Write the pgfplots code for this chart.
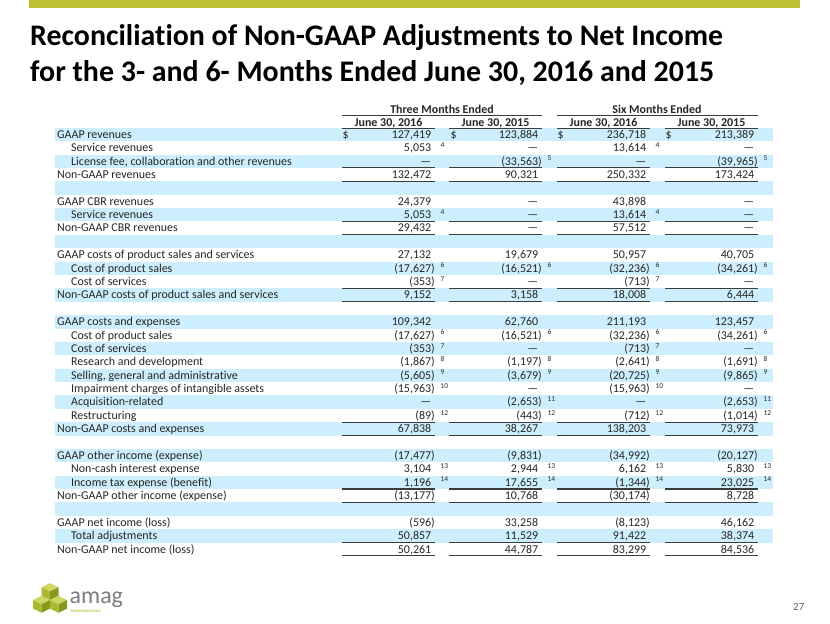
\documentclass[border=0pt]{standalone}
\usepackage{pgfplots}
\pgfplotsset{compat=1.18}
\usepackage{pgfplotstable}
\usepackage{fontspec}
\setmainfont{Carlito}[Ligatures=CommonOff]
\definecolor{barg}{RGB}{189,192,52}
\definecolor{rowblue}{RGB}{205,238,252}
\definecolor{txt}{RGB}{38,38,38}
\definecolor{rulec}{RGB}{60,60,60}
\definecolor{lg1}{RGB}{204,214,96}
\definecolor{lg2}{RGB}{170,186,44}
\definecolor{lg3}{RGB}{136,152,30}
\definecolor{amaggray}{RGB}{125,125,125}

\makeatletter
\newcommand\fmtval{\edef\tmpv{\pgfplotspointmeta}\expandafter\in@\expandafter)\expandafter{\tmpv}\ifin@\tmpv\else\tmpv\hphantom{)}\fi}
\makeatother

\pgfplotstableread[col sep=semicolon]{
r;ind;lab;c1;f1;c2;f2;c3;f3;c4;f4
1;0;GAAP revenues;127,419;{};123,884;{};236,718;{};213,389;{}
2;1;Service revenues;5,053;4;—;{};13,614;4;—;{}
3;1;License fee, collaboration and other revenues;—;{};(33,563);5;—;{};(39,965);5
4;0;Non-GAAP revenues;132,472;{};90,321;{};250,332;{};173,424;{}
6;0;GAAP CBR revenues;24,379;{};—;{};43,898;{};—;{}
7;1;Service revenues;5,053;4;—;{};13,614;4;—;{}
8;0;Non-GAAP CBR revenues;29,432;{};—;{};57,512;{};—;{}
10;0;GAAP costs of product sales and services;27,132;{};19,679;{};50,957;{};40,705;{}
11;1;Cost of product sales;(17,627);6;(16,521);6;(32,236);6;(34,261);6
12;1;Cost of services;(353);7;—;{};(713);7;—;{}
13;0;Non-GAAP costs of product sales and services;9,152;{};3,158;{};18,008;{};6,444;{}
15;0;GAAP costs and expenses;109,342;{};62,760;{};211,193;{};123,457;{}
16;1;Cost of product sales;(17,627);6;(16,521);6;(32,236);6;(34,261);6
17;1;Cost of services;(353);7;—;{};(713);7;—;{}
18;1;Research and development;(1,867);8;(1,197);8;(2,641);8;(1,691);8
19;1;Selling, general and administrative;(5,605);9;(3,679);9;(20,725);9;(9,865);9
20;1;Impairment charges of intangible assets;(15,963);10;—;{};(15,963);10;—;{}
21;1;Acquisition-related;—;{};(2,653);11;—;{};(2,653);11
22;1;Restructuring;(89);12;(443);12;(712);12;(1,014);12
23;0;Non-GAAP costs and expenses;67,838;{};38,267;{};138,203;{};73,973;{}
25;0;GAAP other income (expense);(17,477);{};(9,831);{};(34,992);{};(20,127);{}
26;1;Non-cash interest expense;3,104;13;2,944;13;6,162;13;5,830;13
27;1;Income tax expense (benefit);1,196;14;17,655;14;(1,344);14;23,025;14
28;0;Non-GAAP other income (expense);(13,177);{};10,768;{};(30,174);{};8,728;{}
30;0;GAAP net income (loss);(596);{};33,258;{};(8,123);{};46,162;{}
31;1;Total adjustments;50,857;{};11,529;{};91,422;{};38,374;{}
32;0;Non-GAAP net income (loss);50,261;{};44,787;{};83,299;{};84,536;{}
}\tbl

\pgfplotsset{
  celltext/.style={draw=none, mark=none, forget plot, nodes near coords, point meta=explicit symbolic,
    every node near coord/.style={inner sep=0pt, font=\fontsize{12}{14}\selectfont, text=txt, anchor=base east}},
  footn/.style={draw=none, mark=none, forget plot, nodes near coords, point meta=explicit symbolic,
    every node near coord/.style={inner sep=0pt, font=\fontsize{7.5}{8}\selectfont, text=txt, anchor=base west}},
}
\newcommand\rowbase{(138.3+13.38*(\thisrow{r}-1))}
\newcommand\cube[2]{%
  \fill[lg1] (axis cs:#1,#2-8.5) -- (axis cs:#1+8.5,#2-4.25) -- (axis cs:#1,#2) -- (axis cs:#1-8.5,#2-4.25) -- cycle;
  \fill[lg2] (axis cs:#1-8.5,#2-4.25) -- (axis cs:#1,#2) -- (axis cs:#1,#2+8.5) -- (axis cs:#1-8.5,#2+4.25) -- cycle;
  \fill[lg3] (axis cs:#1,#2) -- (axis cs:#1+8.5,#2-4.25) -- (axis cs:#1+8.5,#2+4.25) -- (axis cs:#1,#2+8.5) -- cycle;}

\begin{document}
\begin{tikzpicture}
\begin{axis}[width=830bp, height=623bp, scale only axis, xmin=0, xmax=830, ymin=0, ymax=623,
  y dir=reverse, hide axis, ticks=none, enlargelimits=false, clip=false]
\path (axis cs:0,0) rectangle (axis cs:830,623);
% top bar
\fill[barg] (axis cs:29,0) rectangle (axis cs:800,8.5);
% title
\node[anchor=base west, inner sep=0pt, font=\fontsize{30}{36}\bfseries\selectfont, text=black] at (axis cs:30,46) {Reconciliation of Non-GAAP Adjustments to Net Income};
\node[anchor=base west, inner sep=0pt, font=\fontsize{30}{36}\bfseries\selectfont, text=black] at (axis cs:30,82) {for the 3- and 6- Months Ended June 30, 2016 and 2015};
% shaded rows
\pgfplotsinvokeforeach{1,3,...,31}{
  \fill[rowblue] (axis cs:55,{127.8+13.38*(#1-1)}) rectangle (axis cs:773,{141.18+13.38*(#1-1)});
}
% header
\node[anchor=base, inner sep=0pt, font=\fontsize{12}{14}\bfseries\selectfont, text=txt] at (axis cs:442,113) {Three Months Ended};
\node[anchor=base, inner sep=0pt, font=\fontsize{12}{14}\bfseries\selectfont, text=txt] at (axis cs:657,113) {Six Months Ended};
\draw[rulec, line width=1.2pt] (axis cs:342,115.8) -- (axis cs:542,115.8);
\draw[rulec, line width=1.2pt] (axis cs:557,115.8) -- (axis cs:758,115.8);
\node[anchor=base, inner sep=0pt, font=\fontsize{12}{14}\bfseries\selectfont, text=txt] at (axis cs:388.5,126.5) {June 30, 2016};
\node[anchor=base, inner sep=0pt, font=\fontsize{12}{14}\bfseries\selectfont, text=txt] at (axis cs:495.5,126.5) {June 30, 2015};
\node[anchor=base, inner sep=0pt, font=\fontsize{12}{14}\bfseries\selectfont, text=txt] at (axis cs:603.5,126.5) {June 30, 2016};
\node[anchor=base, inner sep=0pt, font=\fontsize{12}{14}\bfseries\selectfont, text=txt] at (axis cs:711.5,126.5) {June 30, 2015};
\draw[rulec, line width=1.2pt] (axis cs:342,128.5) -- (axis cs:435,128.5);
\draw[rulec, line width=1.2pt] (axis cs:449,128.5) -- (axis cs:542,128.5);
\draw[rulec, line width=1.2pt] (axis cs:557,128.5) -- (axis cs:650,128.5);
\draw[rulec, line width=1.2pt] (axis cs:665,128.5) -- (axis cs:758,128.5);
% underlines
\pgfplotsinvokeforeach{3,4,7,8,12,13,22,23,27,28,31,32}{
  \draw[rulec, line width=1.1pt] (axis cs:342,{141.1+13.38*(#1-1)}) -- (axis cs:435,{141.1+13.38*(#1-1)});
  \draw[rulec, line width=1.1pt] (axis cs:449,{141.1+13.38*(#1-1)}) -- (axis cs:542,{141.1+13.38*(#1-1)});
  \draw[rulec, line width=1.1pt] (axis cs:557,{141.1+13.38*(#1-1)}) -- (axis cs:650,{141.1+13.38*(#1-1)});
  \draw[rulec, line width=1.1pt] (axis cs:665,{141.1+13.38*(#1-1)}) -- (axis cs:758,{141.1+13.38*(#1-1)});
}
% row labels
\addplot[celltext, every node near coord/.append style={anchor=base west}, nodes near coords={\pgfplotspointmeta}]
  table[x expr={57+14*\thisrow{ind}}, y expr={\rowbase}, meta=lab] {\tbl};
% dollar signs
\addplot[celltext, every node near coord/.append style={anchor=base west}, nodes near coords={\$}]
  coordinates {(342.5,138.3) (450.5,138.3) (557.5,138.3) (665.5,138.3)};
% values
\addplot[celltext, nodes near coords={\fmtval}] table[x expr=435, y expr={\rowbase}, meta=c1] {\tbl};
\addplot[celltext, nodes near coords={\fmtval}] table[x expr=542, y expr={\rowbase}, meta=c2] {\tbl};
\addplot[celltext, nodes near coords={\fmtval}] table[x expr=650, y expr={\rowbase}, meta=c3] {\tbl};
\addplot[celltext, nodes near coords={\fmtval}] table[x expr=758, y expr={\rowbase}, meta=c4] {\tbl};
% footnote marks
\addplot[footn, nodes near coords={\pgfplotspointmeta}] table[x expr=440.5, y expr={\rowbase-4.2}, meta=f1] {\tbl};
\addplot[footn, nodes near coords={\pgfplotspointmeta}] table[x expr=547.5, y expr={\rowbase-4.2}, meta=f2] {\tbl};
\addplot[footn, nodes near coords={\pgfplotspointmeta}] table[x expr=655.5, y expr={\rowbase-4.2}, meta=f3] {\tbl};
\addplot[footn, nodes near coords={\pgfplotspointmeta}] table[x expr=763.5, y expr={\rowbase-4.2}, meta=f4] {\tbl};
% logo
\cube{50}{591.5}
\cube{41.5}{604.25}
\cube{58.5}{604.25}
\node[anchor=base west, inner sep=0pt, font=\fontsize{24}{26}\selectfont, text=amaggray] at (axis cs:69.5,603) {amag};
\node[anchor=base west, inner sep=0pt, font=\fontsize{3.6}{4}\bfseries\selectfont, text=lg2] at (axis cs:71,612.5) {PHARMACEUTICALS};
% page number
\node[anchor=base west, inner sep=0pt, font=\fontsize{11}{13}\selectfont, text=amaggray!80!black] at (axis cs:793,610) {27};
\end{axis}
\end{tikzpicture}
\end{document}
